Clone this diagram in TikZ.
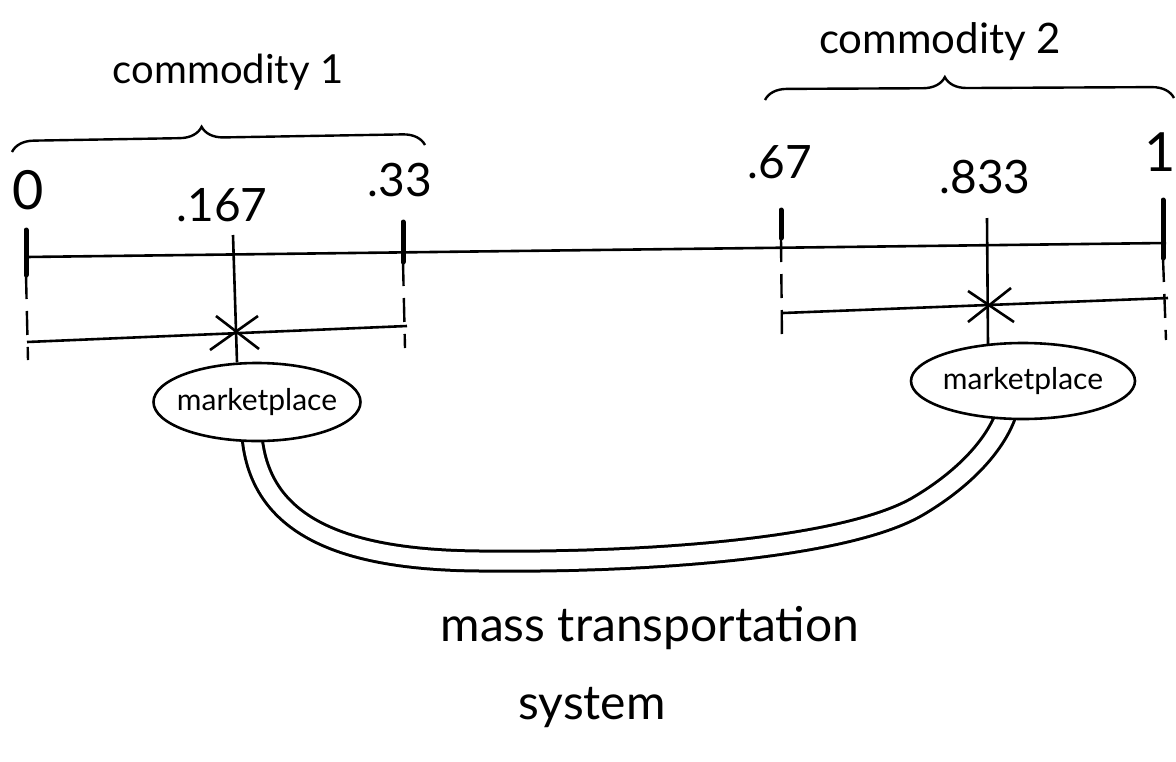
\documentclass[tikz,border=0pt]{standalone}
\usepackage{fontspec}
\setmainfont{Lato}
\usetikzlibrary{shapes.geometric,decorations.pathreplacing,calc}
\pgfdeclarelayer{background}
\pgfsetlayers{background,main}
\tikzset{
  ln/.style={line width=2.6pt, black},
  tickmark/.style={line width=5pt, black, line cap=round},
  guide/.style={line width=2.4pt, black, dash pattern=on 24pt off 12pt},
  lbl/.style={font=\fontsize{40}{46}\selectfont, inner sep=0pt},
  num/.style={font=\fontsize{46}{52}\selectfont, inner sep=0pt},
  mp/.style={ellipse, draw, line width=2.6pt, fill=white, font=\fontsize{30}{34}\selectfont, inner ysep=0pt, inner xsep=-14pt},
  brc/.style={line width=2.4pt, decorate, decoration={brace, amplitude=22pt}},
  road/.style={line width=3pt, double=white, double distance=17pt}
}
\begin{document}
\begin{tikzpicture}[x=1pt,y=-1pt]
\useasboundingbox (0,0) rectangle (1176,761);
% main axis
\coordinate (a0) at (26,257);
\coordinate (a1) at (1166,243);
\draw[ln] (a0) -- (a1);
% ticks
\coordinate (t0) at (26,230);   \coordinate (t0b) at (26,275);  \coordinate (t0d) at (28,360);
\coordinate (t33) at (403,222); \coordinate (t33b) at (403,262); \coordinate (t33d) at (405,348);
\coordinate (t67) at (781,210); \coordinate (t67b) at (781,238); \coordinate (t67d) at (782,342);
\coordinate (t1) at (1163,200); \coordinate (t1b) at (1163,258); \coordinate (t1d) at (1166,340);
\draw[tickmark] (t0) -- (t0b);
\draw[tickmark] (t33) -- (t33b);
\draw[tickmark] (t67) -- (t67b);
\draw[tickmark] (t1) -- (t1b);
\draw[guide] (t0b) -- (t0d);
\draw[guide] (t33b) -- (t33d);
\draw[guide] (t67b) -- (t67d);
\draw[guide] (t1b) -- (t1d);
% lower lines
\coordinate (l0) at (27,342);
\coordinate (l1) at (407,326);
\coordinate (r0) at (783,313);
\coordinate (r1) at (1168,298);
\draw[ln] (l0) -- (l1);
\draw[ln] (r0) -- (r1);
% marketplaces
\node[mp, minimum width=207pt, minimum height=78pt] (mpL) at (257,402) {marketplace};
\node[mp, minimum width=224pt, minimum height=76pt] (mpR) at (1023,381) {marketplace};
% road
\begin{pgfonlayer}{background}
\draw[road] ($(mpL.south)+(-5,-6)$) .. controls (260,525) and (340,560) .. (480,561)
  .. controls (650,563) and (850,548) .. (920,505)
  .. controls (965,478) and (995,445) .. ($(mpR.south)+(-17,-6)$);
\end{pgfonlayer}
% verticals and stars
\coordinate (vL) at (233,235);
\coordinate (sL) at (236,332);
\coordinate (vLe) at (237,362);
\draw[ln] (vL) -- (vLe);
\draw[ln] ($(sL)+(-26,18)$) -- ($(sL)+(22,-16)$);
\draw[ln] ($(sL)+(-20,-16)$) -- ($(sL)+(23,17)$);
\coordinate (vR) at (987,218);
\coordinate (sR) at (988,305);
\coordinate (vRe) at (988,345);
\draw[ln] (vR) -- (vRe);
\draw[ln] ($(sR)+(-20,17)$) -- ($(sR)+(23,-17)$);
\draw[ln] ($(sR)+(-20,-14)$) -- ($(sR)+(26,17)$);
% braces
\coordinate (b1a) at (12,152);
\coordinate (b1b) at (425,145);
\draw[brc, decoration={aspect=0.46}] (b1a) -- (b1b);
\coordinate (b2a) at (765,100);
\coordinate (b2b) at (1174,98);
\draw[brc, decoration={aspect=0.44}] (b2a) -- (b2b);
% labels
\node[lbl] (c1) at (228,72) {commodity 1};
\node[lbl, font=\fontsize{42}{48}\selectfont] (c2) at (940,42) {commodity 2};
\node[num, font=\fontsize{54}{60}\selectfont] (n0) at (28,190) {0};
\node[num] (n167) at (222,205) {.167};
\node[num] (n33) at (400,180) {.33};
\node[num] (n67) at (780,162) {.67};
\node[num] (n833) at (985,177) {.833};
\node[num, font=\fontsize{54}{60}\selectfont] (n1) at (1160,152) {1};
\node[lbl, font=\fontsize{48}{54}\selectfont] (mts) at (650,628) {mass transportation};
\node[lbl, font=\fontsize{48}{54}\selectfont] (sys) at (592,708) {system};
\end{tikzpicture}
\end{document}
